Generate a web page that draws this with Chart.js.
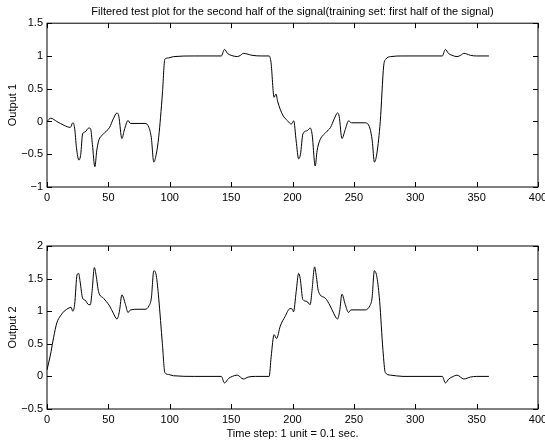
<!DOCTYPE html>
<html>
<head>
<meta charset="utf-8">
<script src="https://cdn.jsdelivr.net/npm/chart.js@4"></script>
<style>
  html, body { margin: 0; padding: 0; background: #fff; }
  #wrap { position: relative; width: 545px; height: 441px; }
  #wrap canvas { position: absolute; left: 0; top: 0; }
</style>
</head>
<body>
<div id="wrap">
  <canvas id="top" width="545" height="441"></canvas>
  <canvas id="bottom" width="545" height="441"></canvas>
</div>
<script>
// time steps and values
const out1Steps = [0, 3, 8, 14, 19, 21, 22.5, 24, 26, 27.5, 29, 31, 34, 35.5, 37, 39, 40.5, 42, 46, 51,
  54, 57, 58.5, 61, 63, 66, 68, 75, 80, 83, 85, 87, 89, 91, 94, 96, 99, 103, 120, 142,
  144.6, 147, 150, 155, 157.6, 160, 163, 167, 175, 181, 182.5, 185, 186.5, 188, 192, 196, 199, 201, 203, 205,
  206.5, 208.5, 212, 214.5, 216, 218.5, 220, 222, 227, 231, 234, 236.7, 238, 240.3, 243, 245.7, 248, 255, 259, 263,
  265, 266.7, 268.8, 271.5, 274.3, 276, 280, 290, 322, 324.6, 327, 330, 334, 337, 339.6, 342, 345, 350, 360];
const out1Values = [0.0, 0.05, 0.0, -0.06, -0.09, -0.02, -0.1, -0.4, -0.59, -0.5, -0.19, -0.16, -0.1, -0.11, -0.35, -0.69, -0.45, -0.3, -0.19, -0.09,
  0.04, 0.13, 0.08, -0.26, -0.13, 0.015, -0.03, -0.03, -0.03, -0.09, -0.25, -0.62, -0.5, -0.24, 0.42, 0.95, 0.97, 0.99, 1.0, 1.0,
  1.1, 1.04, 1.01, 0.99, 1.01, 1.04, 1.03, 1.01, 1.0, 1.0, 0.9, 0.37, 0.42, 0.3, 0.1, 0.01, -0.04, 0.01, -0.3, -0.57,
  -0.5, -0.19, -0.14, -0.1, -0.2, -0.68, -0.45, -0.3, -0.17, -0.09, 0.04, 0.13, 0.08, -0.26, -0.12, 0.01, -0.02, -0.02, -0.02, -0.1,
  -0.3, -0.62, -0.48, 0.0, 0.85, 0.95, 0.99, 1.0, 1.0, 1.1, 1.04, 1.01, 0.99, 1.01, 1.04, 1.03, 1.01, 1.0, 1.0];

const out2Steps = [0, 1.5, 3.3, 5.4, 8, 11, 14, 18, 19.6, 21, 22.5, 24.5, 25.8, 27, 29, 31, 34, 35.3, 36.7, 38.6,
  40, 42, 46, 51, 54, 57, 59, 61, 64, 66, 68, 75, 80, 83, 85, 87, 89, 91, 94, 96,
  99, 103, 120, 142, 144.6, 148, 151, 155, 160, 164, 170, 181, 182.6, 185, 187, 190, 194, 198, 200, 200.8,
  203, 205, 206.3, 208.4, 211.7, 214.4, 215.8, 218, 219.3, 221.2, 226.7, 230.7, 233.5, 236.7, 238.4, 240.3, 243, 245.7, 247.6, 255,
  259, 262.9, 264.8, 266.7, 268.8, 271, 273.7, 275.6, 279.7, 290, 322, 324.6, 327.3, 331, 334, 339.6, 345, 350, 360];
const out2Values = [0.1, 0.22, 0.38, 0.6, 0.82, 0.93, 1.0, 1.05, 1.06, 1.0, 1.1, 1.56, 1.58, 1.45, 1.2, 1.17, 1.1, 1.1, 1.3, 1.67,
  1.55, 1.3, 1.2, 1.08, 0.97, 0.88, 1.0, 1.25, 1.1, 0.98, 1.02, 1.03, 1.03, 1.08, 1.2, 1.62, 1.55, 1.2, 0.5, 0.06,
  0.03, 0.01, 0.0, 0.0, -0.1, -0.03, 0.0, 0.02, -0.04, -0.01, 0.0, 0.0, 0.3, 0.64, 0.58, 0.77, 0.92, 1.04, 1.03, 0.99,
  1.3, 1.58, 1.5, 1.18, 1.15, 1.1, 1.3, 1.68, 1.55, 1.3, 1.2, 1.08, 0.97, 0.88, 1.0, 1.26, 1.1, 0.98, 1.02, 1.02,
  1.02, 1.08, 1.2, 1.62, 1.52, 1.15, 0.4, 0.06, 0.02, 0.0, 0.0, -0.1, -0.04, 0.0, 0.02, -0.04, -0.01, 0.0, 0.0];

const xTicks = [0, 50, 100, 150, 200, 250, 300, 350, 400];
const out1Ticks = [-1, -0.5, 0, 0.5, 1, 1.5];
const out2Ticks = [-0.5, 0, 0.5, 1, 1.5, 2];

const FONT = { family: '"Liberation Sans", Arial, sans-serif', size: 11 };

// box round the axes with matlab style inward ticks
const boxPlugin = {
    id: 'box',
    afterDraw(chart) {
        const { ctx, chartArea: a, scales } = chart;
        ctx.save();
        ctx.strokeStyle = '#000';
        ctx.lineWidth = 1;
        ctx.strokeRect(a.left, a.top, a.right - a.left, a.bottom - a.top);
        ctx.beginPath();
        scales.x.ticks.forEach(t => {
            const px = Math.round(scales.x.getPixelForValue(t.value)) + 0.5;
            ctx.moveTo(px, a.bottom); ctx.lineTo(px, a.bottom - 5);
            ctx.moveTo(px, a.top); ctx.lineTo(px, a.top + 5);
        });
        scales.y.ticks.forEach(t => {
            const py = Math.round(scales.y.getPixelForValue(t.value)) + 0.5;
            ctx.moveTo(a.left, py); ctx.lineTo(a.left + 5, py);
            ctx.moveTo(a.right, py); ctx.lineTo(a.right - 5, py);
        });
        ctx.stroke();
        ctx.restore();
    }
};

function makeChart(id, steps, values, yTicks, yLabel, opts) {
    const points = steps.map((s, i) => ({ x: s, y: values[i] }));
    return new Chart(document.getElementById(id), {
        type: 'line',
        data: {
            datasets: [{
                data: points,
                borderColor: '#000',
                borderWidth: 1,
                pointRadius: 0,
                cubicInterpolationMode: 'monotone',
                fill: false
            }]
        },
        options: {
            responsive: false,
            animation: false,
            layout: { autoPadding: false, padding: opts.padding },
            plugins: {
                legend: { display: false },
                tooltip: { enabled: false },
                title: {
                    display: !!opts.title,
                    text: opts.title || '',
                    fullSize: false,   // centre over the plot area, like matlab
                    color: '#000',
                    font: { ...FONT, weight: 'normal' },
                    padding: { top: 5, bottom: 5 }
                }
            },
            scales: {
                x: {
                    type: 'linear',
                    min: 0,
                    max: 400,
                    afterBuildTicks: s => { s.ticks = xTicks.map(v => ({ value: v })); },
                    afterFit: s => { s.height = opts.xHeight; s.paddingLeft = 0; s.paddingRight = 0; },
                    grid: { display: false, drawTicks: false },
                    border: { display: false },
                    ticks: { color: '#000', font: FONT, padding: 4, maxRotation: 0 },
                    title: {
                        display: !!opts.xLabel,
                        text: opts.xLabel || '',
                        color: '#000',
                        font: FONT,
                        padding: { top: 1, bottom: 0 }
                    }
                },
                y: {
                    type: 'linear',
                    min: yTicks[0],
                    max: yTicks[yTicks.length - 1],
                    afterBuildTicks: s => { s.ticks = yTicks.map(v => ({ value: v })); },
                    afterFit: s => { s.width = 47; s.paddingTop = 0; s.paddingBottom = 0; },
                    grid: { display: false, drawTicks: false },
                    border: { display: false },
                    ticks: {
                        color: '#000',
                        font: FONT,
                        padding: 4,
                        callback: v => (v < 0 ? '\u2212' + Math.abs(v) : String(v))
                    },
                    title: {
                        display: true,
                        text: yLabel,
                        color: '#000',
                        font: FONT,
                        padding: { top: 6, bottom: 0 }
                    }
                }
            }
        },
        plugins: [boxPlugin]
    });
}

makeChart('top', out1Steps, out1Values, out1Ticks, 'Output 1', {
    title: 'Filtered test plot for the second half of the signal(training set: first half of the signal)',
    padding: { left: 0, right: 7, top: 0, bottom: 226 },
    xHeight: 28
});

makeChart('bottom', out2Steps, out2Values, out2Ticks, 'Output 2', {
    xLabel: 'Time step: 1 unit = 0.1 sec.',
    padding: { left: 0, right: 7, top: 246, bottom: 0 },
    xHeight: 32
});
</script>
</body>
</html>
